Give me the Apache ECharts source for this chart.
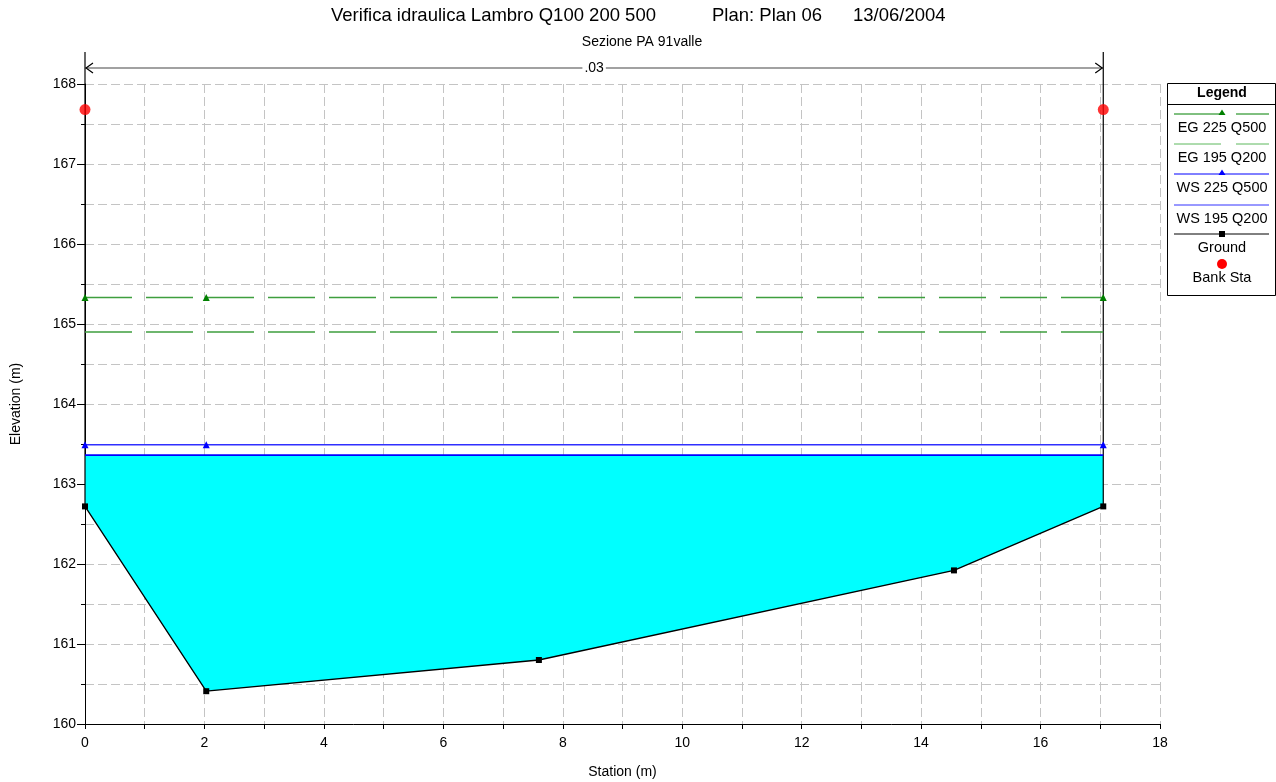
<!DOCTYPE html>
<html>
<head>
<meta charset="utf-8">
<script src="https://cdn.jsdelivr.net/npm/echarts@6/dist/echarts.min.js"></script>
<style>
html,body{margin:0;padding:0;background:#fff;}
#chart{width:1276px;height:782px;}
</style>
</head>
<body>
<div id="chart"></div>
<script>
// ---- data ----
var groundStation = [0, 2.03, 7.6, 14.55, 17.05];
var groundElev = [162.72, 160.41, 160.80, 161.92, 162.72];
var bankStation = [0, 17.05];
var bankElev = [167.68, 167.68];
var wsStation = [0, 2.03, 17.05];
var egStation = [0, 2.03, 17.05];
var eg225 = [165.33, 165.33, 165.33];   // EG 225 Q500
var eg195 = [164.90, 164.90, 164.90];   // EG 195 Q200
var ws225 = [163.49, 163.49, 163.49];   // WS 225 Q500
var ws195 = [163.36, 163.36, 163.36];   // WS 195 Q200
var manningN = '.03';
var manningElev = 168.2;
var wallTop = 168.4;
var xTicks = [0, 2, 4, 6, 8, 10, 12, 14, 16, 18];
var yTicks = [160, 161, 162, 163, 164, 165, 166, 167, 168];

function pairs(xs, ys) { return xs.map(function (x, i) { return [x, ys[i]]; }); }

var FONT = '"Liberation Sans", Arial, sans-serif';
var chart = echarts.init(document.getElementById('chart'));

var gridDash = { color: '#c4c4c4', width: 1, type: [9, 4] };
var LF = '14.5px ' + FONT;

var option = {
  animation: false,
  textStyle: { fontFamily: FONT },
  grid: { left: 85, right: 116, top: 84, bottom: 58, containLabel: false, outerBoundsMode: 'none' },
  xAxis: {
    type: 'value', min: xTicks[0], max: xTicks[xTicks.length - 1], interval: 2,
    name: 'Station (m)', nameLocation: 'middle', nameGap: 41,
    nameTextStyle: { color: '#000', fontSize: 14, fontFamily: FONT },
    axisLine: { show: true, onZero: false, lineStyle: { color: '#000', width: 1 } },
    axisTick: { show: true, length: 5, lineStyle: { color: '#000' } },
    minorTick: { show: true, splitNumber: 2, length: 5, lineStyle: { color: '#000' } },
    axisLabel: { color: '#000', fontSize: 14, margin: 12, fontFamily: FONT },
    splitLine: { show: true, lineStyle: gridDash },
    minorSplitLine: { show: true, lineStyle: gridDash }
  },
  yAxis: {
    type: 'value', min: yTicks[0], max: yTicks[yTicks.length - 1], interval: 1,
    name: 'Elevation (m)', nameLocation: 'middle', nameGap: 62, nameRotate: 90,
    nameTextStyle: { color: '#000', fontSize: 14, fontFamily: FONT },
    axisLine: { show: true, onZero: false, lineStyle: { color: '#000', width: 1 } },
    axisTick: { show: true, length: 8, lineStyle: { color: '#000' } },
    minorTick: { show: true, splitNumber: 2, length: 4, lineStyle: { color: '#000' } },
    axisLabel: { color: '#000', fontSize: 14, margin: 9, fontFamily: FONT },
    splitLine: { show: true, lineStyle: gridDash },
    minorSplitLine: { show: true, lineStyle: gridDash }
  },
  series: [
    {
      name: 'Water', type: 'custom', z: 1, silent: true,
      data: [[0, 0]],
      renderItem: function (params, api) {
        var pts = [];
        pts.push(api.coord([groundStation[0], ws195[0]]));
        for (var i = 0; i < groundStation.length; i++) {
          pts.push(api.coord([groundStation[i], groundElev[i]]));
        }
        pts.push(api.coord([groundStation[groundStation.length - 1], ws195[ws195.length - 1]]));
        return { type: 'polygon', shape: { points: pts }, style: { fill: '#00ffff', stroke: null } };
      }
    },
    {
      name: 'Walls', type: 'custom', z: 3, silent: true, clip: false,
      data: [[0, 0]],
      renderItem: function (params, api) {
        var a = api.coord([groundStation[0], groundElev[0]]);
        var b = api.coord([groundStation[0], wallTop]);
        var c = api.coord([groundStation[groundStation.length - 1], groundElev[groundElev.length - 1]]);
        var d = api.coord([groundStation[groundStation.length - 1], wallTop]);
        var l = api.coord([groundStation[0], manningElev]);
        var r = api.coord([groundStation[groundStation.length - 1], manningElev]);
        var midX = (l[0] + r[0]) / 2;
        var st = { stroke: '#000', lineWidth: 1.2, fill: null };
        var st2 = { stroke: '#444', lineWidth: 1.2, fill: null };
        return {
          type: 'group',
          children: [
            { type: 'line', shape: { x1: a[0], y1: a[1], x2: b[0], y2: b[1] }, style: st },
            { type: 'line', shape: { x1: c[0], y1: c[1], x2: d[0], y2: d[1] }, style: st },
            { type: 'line', shape: { x1: l[0], y1: l[1], x2: r[0], y2: r[1] }, style: st2 },
            { type: 'polyline', shape: { points: [[l[0] + 8, l[1] - 5], [l[0] + 1, l[1]], [l[0] + 8, l[1] + 5]] }, style: st },
            { type: 'polyline', shape: { points: [[r[0] - 8, r[1] - 5], [r[0] - 1, r[1]], [r[0] - 8, r[1] + 5]] }, style: st },
            { type: 'text', x: midX, y: l[1], style: { text: manningN, fill: '#000', font: '14px ' + FONT, align: 'center', verticalAlign: 'middle', backgroundColor: '#fff', padding: [0, 2] } }
          ]
        };
      }
    },
    {
      name: 'EG 225 Q500', type: 'line', z: 4, data: pairs(egStation, eg225),
      symbol: 'triangle', symbolSize: 7, showAllSymbol: true,
      itemStyle: { color: '#008000' },
      lineStyle: { color: '#3f9f3f', width: 1.5, type: [47, 14] }
    },
    {
      name: 'EG 195 Q200', type: 'line', z: 4, data: pairs(egStation, eg195),
      symbol: 'none',
      lineStyle: { color: '#3f9f3f', width: 1.5, type: [47, 14] }
    },
    {
      name: 'WS 225 Q500', type: 'line', z: 5, data: pairs(wsStation, ws225),
      symbol: 'triangle', symbolSize: 7, showAllSymbol: true,
      itemStyle: { color: '#0000ff' },
      lineStyle: { color: '#3030ff', width: 1.5 }
    },
    {
      name: 'WS 195 Q200', type: 'line', z: 5, data: pairs(wsStation, ws195),
      symbol: 'none',
      lineStyle: { color: '#0000ff', width: 1.8 }
    },
    {
      name: 'Ground', type: 'line', z: 6, data: pairs(groundStation, groundElev),
      symbol: 'rect', symbolSize: 6, showAllSymbol: true, clip: false,
      itemStyle: { color: '#000' },
      lineStyle: { color: '#000', width: 1.3 }
    },
    {
      name: 'Bank Sta', type: 'scatter', z: 7, data: pairs(bankStation, bankElev),
      symbol: 'circle', symbolSize: 11, clip: false,
      itemStyle: { color: '#ff0000' }
    }
  ],
  graphic: [
    { type: 'text', left: 331, top: 6, style: { text: 'Verifica idraulica Lambro Q100 200 500', fill: '#000', font: '18.5px ' + FONT } },
    { type: 'text', left: 712, top: 6, style: { text: 'Plan: Plan 06', fill: '#000', font: '18.5px ' + FONT } },
    { type: 'text', left: 853, top: 6, style: { text: '13/06/2004', fill: '#000', font: '18.5px ' + FONT } },
    { type: 'text', x: 642, y: 42, style: { text: 'Sezione PA 91valle', fill: '#000', font: '14px ' + FONT, align: 'center', verticalAlign: 'middle' } },
    // legend box
    { type: 'rect', shape: { x: 1167.5, y: 83.5, width: 108, height: 212 }, style: { fill: '#fff', stroke: '#000', lineWidth: 1 } },
    { type: 'line', shape: { x1: 1167.5, y1: 104.5, x2: 1275.5, y2: 104.5 }, style: { stroke: '#000', lineWidth: 1 } },
    { type: 'text', x: 1222, y: 93, style: { text: 'Legend', fill: '#000', font: 'bold 14px ' + FONT, align: 'center', verticalAlign: 'middle' } },
    // EG 225
    { type: 'line', shape: { x1: 1174, y1: 114, x2: 1221, y2: 114 }, style: { stroke: '#008000', lineWidth: 1 } },
    { type: 'line', shape: { x1: 1236, y1: 114, x2: 1269, y2: 114 }, style: { stroke: '#008000', lineWidth: 1 } },
    { type: 'polygon', shape: { points: [[1222, 109.5], [1218.5, 115], [1225.5, 115]] }, style: { fill: '#008000' } },
    { type: 'text', x: 1222, y: 128, style: { text: 'EG 225 Q500', fill: '#000', font: LF, align: 'center', verticalAlign: 'middle' } },
    // EG 195
    { type: 'line', shape: { x1: 1174, y1: 144, x2: 1221, y2: 144 }, style: { stroke: '#5cb85c', lineWidth: 1 } },
    { type: 'line', shape: { x1: 1236, y1: 144, x2: 1269, y2: 144 }, style: { stroke: '#5cb85c', lineWidth: 1 } },
    { type: 'text', x: 1222, y: 158, style: { text: 'EG 195 Q200', fill: '#000', font: LF, align: 'center', verticalAlign: 'middle' } },
    // WS 225
    { type: 'line', shape: { x1: 1174, y1: 174, x2: 1269, y2: 174 }, style: { stroke: '#0000ff', lineWidth: 1 } },
    { type: 'polygon', shape: { points: [[1222, 169.5], [1218.5, 175], [1225.5, 175]] }, style: { fill: '#0000ff' } },
    { type: 'text', x: 1222, y: 188, style: { text: 'WS 225 Q500', fill: '#000', font: LF, align: 'center', verticalAlign: 'middle' } },
    // WS 195
    { type: 'line', shape: { x1: 1174, y1: 205, x2: 1269, y2: 205 }, style: { stroke: '#3333ff', lineWidth: 1 } },
    { type: 'text', x: 1222, y: 219, style: { text: 'WS 195 Q200', fill: '#000', font: LF, align: 'center', verticalAlign: 'middle' } },
    // Ground
    { type: 'line', shape: { x1: 1174, y1: 234, x2: 1269, y2: 234 }, style: { stroke: '#000', lineWidth: 1 } },
    { type: 'rect', shape: { x: 1219, y: 231, width: 6, height: 6 }, style: { fill: '#000' } },
    { type: 'text', x: 1222, y: 248, style: { text: 'Ground', fill: '#000', font: LF, align: 'center', verticalAlign: 'middle' } },
    // Bank Sta
    { type: 'circle', shape: { cx: 1222, cy: 264, r: 5 }, style: { fill: '#ff0000' } },
    { type: 'text', x: 1222, y: 278, style: { text: 'Bank Sta', fill: '#000', font: LF, align: 'center', verticalAlign: 'middle' } }
  ]
};
chart.setOption(option);
</script>
</body>
</html>
